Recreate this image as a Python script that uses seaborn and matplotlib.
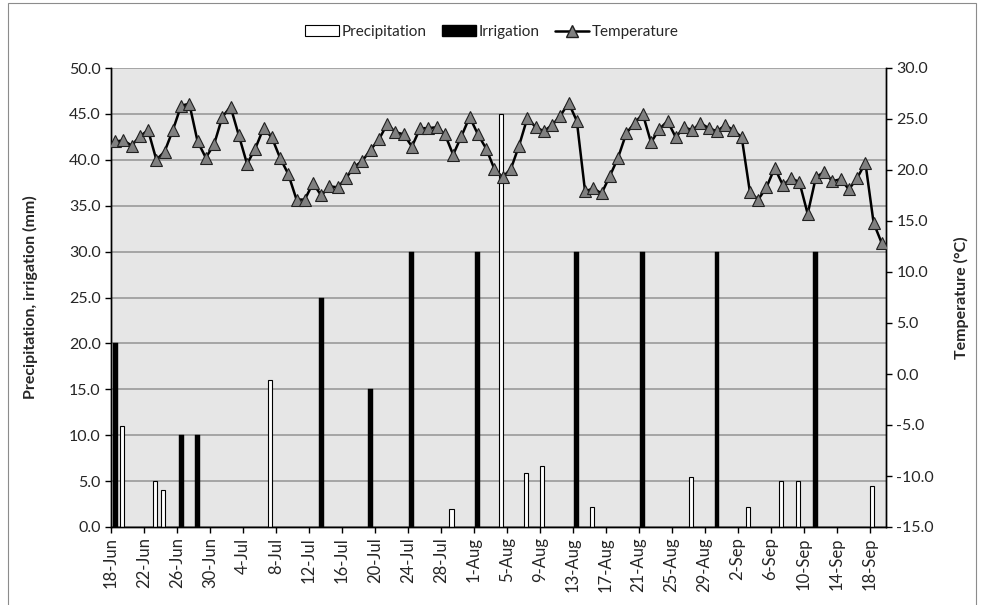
import numpy as np
import pandas as pd
import matplotlib
matplotlib.use("Agg")
import matplotlib.pyplot as plt
import seaborn as sns
from matplotlib.lines import Line2D
from matplotlib.patches import Patch, Rectangle

# daily temperature (°C), 18-Jun .. 19-Sep
start_date = "18-Jun-2013"
temperature = [
    22.8, 22.9, 22.4, 23.3, 23.9, 21.0, 21.8, 23.9, 26.3, 26.5,
    22.8, 21.2, 22.5, 25.2, 26.2, 23.4, 20.6, 22.1, 24.1, 23.2,
    21.2, 19.6, 17.1, 17.1, 18.7, 17.5, 18.4, 18.3, 19.2, 20.3,
    20.9, 22.0, 23.0, 24.5, 23.7, 23.5, 22.3, 24.1, 24.1, 24.2,
    23.5, 21.5, 23.3, 25.2, 23.5, 22.1, 20.1, 19.3, 20.1, 22.4,
    25.1, 24.2, 23.8, 24.4, 25.3, 26.6, 24.8, 17.9, 18.2, 17.7,
    19.4, 21.2, 23.6, 24.6, 25.5, 22.7, 24.0, 24.8, 23.2, 24.2,
    23.9, 24.6, 24.1, 23.8, 24.4, 23.9, 23.2, 17.8, 17.1, 18.3,
    20.2, 18.5, 19.2, 18.8, 15.7, 19.3, 19.8, 18.9, 19.1, 18.1,
    19.2, 20.7, 14.8, 12.8,
]

precip_dates = ["19-Jun", "23-Jun", "24-Jun", "7-Jul", "29-Jul", "4-Aug", "7-Aug",
                "9-Aug", "15-Aug", "27-Aug", "3-Sep", "7-Sep", "9-Sep", "18-Sep"]
precip_mm = [11.0, 5.0, 4.0, 16.0, 2.0, 45.0, 5.9, 6.6, 2.2, 5.5, 2.2, 5.0, 5.0, 4.5]

irrig_dates = ["18-Jun", "26-Jun", "28-Jun", "13-Jul", "19-Jul", "24-Jul", "1-Aug",
               "13-Aug", "21-Aug", "30-Aug", "11-Sep"]
irrig_mm = [20, 10, 10, 25, 15, 30, 30, 30, 30, 30, 30]

dates = pd.date_range(pd.to_datetime(start_date, format="%d-%b-%Y"), periods=len(temperature))
day0 = dates[0]


def day_index(labels):
    d = pd.to_datetime([f"{s}-2013" for s in labels], format="%d-%b-%Y")
    return np.asarray((d - day0).days)


temp_df = pd.DataFrame({"day": np.arange(len(temperature)) + 0.5, "temp": temperature})
precip_x = day_index(precip_dates) + 0.3
irrig_x = day_index(irrig_dates) + 0.5

sns.set_style("white")
plt.rcParams["font.family"] = ["Lato", "DejaVu Sans"]

fig = plt.figure(figsize=(9.84, 6.05), dpi=100)
ax = fig.add_axes([111 / 984, 1 - 527 / 605, (886 - 111) / 984, (527 - 68) / 605])
ax.set_facecolor("#E6E6E6")

ax.bar(precip_x, precip_mm, width=0.5, color="white", edgecolor="black", linewidth=0.8, zorder=3)
ax.bar(irrig_x, irrig_mm, width=0.6, color="black", edgecolor="black", linewidth=0.3, zorder=3)

ax.set_xlim(0, len(temperature))
ax.set_ylim(0, 50)
ax.set_yticks(np.arange(0, 50.1, 5))
ax.set_yticklabels([f"{v:.1f}" for v in np.arange(0, 50.1, 5)], fontsize=11.5)
ax.yaxis.grid(True, color="#A0A0A0", linewidth=1.3, zorder=0)
ax.set_axisbelow(True)

tick_pos = np.arange(0, len(temperature), 4)
ax.set_xticks(tick_pos)
ax.set_xticklabels([f"{dates[i].day}-{dates[i].strftime('%b')}" for i in tick_pos],
                   rotation=90, fontsize=12)
ax.tick_params(axis="both", direction="out", length=4, width=1, color="black",
               bottom=True, left=True)
ax.set_ylabel("Precipitation, irrigation (mm)", fontsize=11.5, fontweight="bold", labelpad=22)

ax2 = ax.twinx()
sns.lineplot(data=temp_df, x="day", y="temp", ax=ax2, color="black", linewidth=1.8,
             marker="^", markersize=9, markerfacecolor="#808080",
             markeredgecolor="#202020", markeredgewidth=0.8, zorder=4)
ax2.set_ylim(-15, 30)
ax2.set_yticks(np.arange(-15, 30.1, 5))
ax2.set_yticklabels([f"{v:.1f}" for v in np.arange(-15, 30.1, 5)], fontsize=11.5)
ax2.tick_params(axis="y", direction="out", length=4, width=1, color="black", right=True)
ax2.set_xlabel("")
ax2.set_ylabel("Temperature (°C)", fontsize=11.5, fontweight="bold", labelpad=14)

for a in (ax, ax2):
    a.spines["top"].set_visible(False)
    for s in ("left", "right", "bottom"):
        a.spines[s].set_color("black")
        a.spines[s].set_linewidth(1)

handles = [
    Patch(facecolor="white", edgecolor="black", linewidth=0.8, label="Precipitation"),
    Patch(facecolor="black", edgecolor="black", label="Irrigation"),
    Line2D([0], [0], color="black", linewidth=1.8, marker="^", markersize=9,
           markerfacecolor="#808080", markeredgecolor="#202020", label="Temperature"),
]
fig.legend(handles=handles, loc="center", bbox_to_anchor=(0.5, 1 - 32 / 605), ncol=3,
           frameon=False, fontsize=11, handlelength=2.2, handletextpad=0.2, columnspacing=1.0)

fig.patches.append(Rectangle((8 / 984, -0.01), (976 - 8) / 984, 1 - 3 / 605 + 0.01,
                             transform=fig.transFigure, fill=False,
                             edgecolor="#8C8C8C", linewidth=0.8))

fig.savefig("out.png", dpi=100)
